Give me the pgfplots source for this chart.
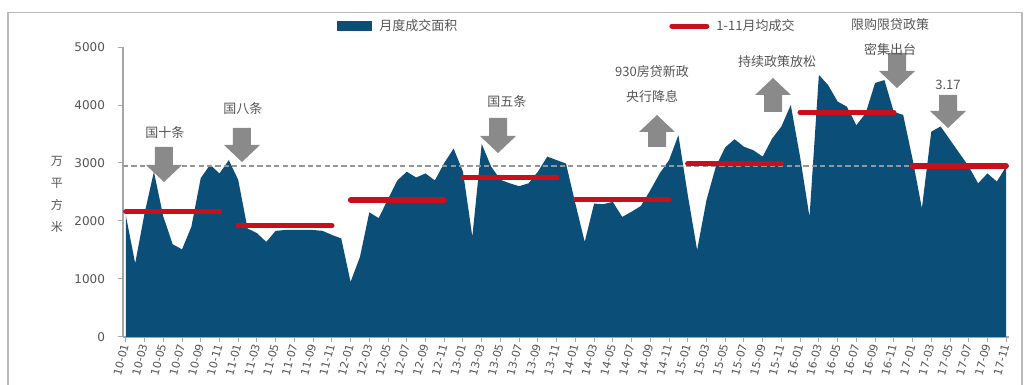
\documentclass[border=0pt]{standalone}
\usepackage{pgfplots}
\usepackage{pgfplotstable}
\pgfplotsset{compat=1.18}
\usepackage{fontspec}
\setmainfont{DejaVu Sans}
\newfontfamily\cjk{Noto Sans CJK SC}
\definecolor{navy}{RGB}{11,79,121}
\definecolor{barred}{RGB}{200,16,28}
\definecolor{arrowgray}{RGB}{138,138,138}
\definecolor{txtgray}{RGB}{85,85,85}

% down arrow: centre x, top y, tip y (pixels of the reference)
\newcommand{\darrow}[3]{\fill[arrowgray] ({(#1-9-123)*0.5pt},{(337-#2)*0.5pt}) -- ({(#1+9-123)*0.5pt},{(337-#2)*0.5pt}) -- ({(#1+9-123)*0.5pt},{(337-#3+17)*0.5pt}) -- ({(#1+18-123)*0.5pt},{(337-#3+17)*0.5pt}) -- ({(#1-123)*0.5pt},{(337-#3)*0.5pt}) -- ({(#1-18-123)*0.5pt},{(337-#3+17)*0.5pt}) -- ({(#1-9-123)*0.5pt},{(337-#3+17)*0.5pt}) -- cycle;}
% up arrow: centre x, tip y, bottom y
\newcommand{\uarrow}[3]{\fill[arrowgray] ({(#1-9-123)*0.5pt},{(337-#3)*0.5pt}) -- ({(#1+9-123)*0.5pt},{(337-#3)*0.5pt}) -- ({(#1+9-123)*0.5pt},{(337-#2-17)*0.5pt}) -- ({(#1+18-123)*0.5pt},{(337-#2-17)*0.5pt}) -- ({(#1-123)*0.5pt},{(337-#2)*0.5pt}) -- ({(#1-18-123)*0.5pt},{(337-#2-17)*0.5pt}) -- ({(#1-9-123)*0.5pt},{(337-#2-17)*0.5pt}) -- cycle;}

\pgfplotstableread{
i v
0 2100
1 1270
2 2130
3 2850
4 2080
5 1600
6 1510
7 1900
8 2740
9 2970
10 2820
11 3050
12 2710
13 1870
14 1790
15 1640
16 1830
17 1845
18 1845
19 1845
20 1845
21 1830
22 1760
23 1700
24 950
25 1380
26 2150
27 2050
28 2380
29 2700
30 2850
31 2750
32 2820
33 2700
34 3000
35 3250
36 2850
37 1730
38 3330
39 2940
40 2710
41 2650
42 2600
43 2650
44 2850
45 3110
46 3050
47 2990
48 2300
49 1640
50 2300
51 2290
52 2330
53 2070
54 2160
55 2260
56 2530
57 2820
58 3050
59 3480
60 2450
61 1500
62 2360
63 2940
64 3270
65 3410
66 3280
67 3220
68 3110
69 3420
70 3630
71 4000
72 3100
73 2070
74 4520
75 4340
76 4060
77 3970
78 3650
79 3860
80 4380
81 4430
82 3880
83 3830
84 3070
85 2220
86 3540
87 3630
88 3400
89 3170
90 2940
91 2650
92 2820
93 2680
94 2940
}\areadata

\pgfplotstableread{
x y
0 2160
10 2160
11 nan
12 1920
22 1920
23 nan
24 2360
34 2360
35 nan
36 2750
46 2750
47 nan
48 2370
58 2370
59 nan
60 2990
70 2990
71 nan
72 3870
82 3870
83 nan
84 2950
94 2950
}\avgdata

\begin{document}
\begin{tikzpicture}
\begin{axis}[
  scale only axis, width=443pt, height=145pt,
  xmin=-0.3, xmax=94.3, ymin=0, ymax=5000,
  axis x line*=bottom, axis y line*=left,
  axis line style={draw=gray!70, line width=0.6pt},
  xtick={0,2,...,94},
  xticklabels={10-01,10-03,10-05,10-07,10-09,10-11,11-01,11-03,11-05,11-07,11-09,11-11,12-01,12-03,12-05,12-07,12-09,12-11,13-01,13-03,13-05,13-07,13-09,13-11,14-01,14-03,14-05,14-07,14-09,14-11,15-01,15-03,15-05,15-07,15-09,15-11,16-01,16-03,16-05,16-07,16-09,16-11,17-01,17-03,17-05,17-07,17-09,17-11},
  ytick={0,1000,...,5000},
  tick align=outside, major tick length=2.5pt,
  tick style={gray!70, line width=0.5pt},
  x tick label style={rotate=75, anchor=east, font=\fontsize{5.5}{6}\selectfont, text=txtgray, inner sep=1pt},
  y tick label style={font=\fontsize{6}{6.5}\selectfont, text=txtgray, xshift=-3pt},
  /pgf/number format/assume math mode=true,
  /pgf/number format/1000 sep={},
  clip=false,
  unbounded coords=jump,
  legend columns=2,
  legend style={at={(axis description cs:0.2415,1.0724)}, anchor=west, draw=none, fill=none,
    font=\cjk\fontsize{6.5}{7}\selectfont, text=txtgray, inner sep=0pt,
    /tikz/every odd column/.append style={column sep=1.5pt},
    /tikz/every even column/.append style={column sep=104pt}},
]
\addplot[fill=navy, draw=none,
  legend image code/.code={\fill[navy] (0pt,-2.5pt) rectangle (17.5pt,2.5pt);}]
  table[x=i, y=v] {\areadata} \closedcycle;
\addlegendentry{月度成交面积}
\addplot[forget plot, draw={rgb,255:red,150;green,150;blue,150}, line width=1pt, dash pattern=on 2.6pt off 1.6pt]
  coordinates {(-0.3,2950) (94.3,2950)};
\addplot[barred, line width=2.7pt, line cap=round,
  legend image code/.code={\draw[barred, line width=2.5pt] (0pt,0pt) -- (17.5pt,0pt);}]
  table[x=x, y=y] {\avgdata};
\addlegendentry{1-11月均成交}
\end{axis}

% annotations
\darrow{164}{147}{182}
\darrow{242}{128}{162}
\darrow{498}{118}{153}
\uarrow{657}{115}{147}
\uarrow{773}{78}{112}
\darrow{897}{53}{88}
\darrow{948}{95}{128}

\begin{scope}[every node/.style={font=\cjk\fontsize{6.5}{7}\selectfont, text=txtgray, inner sep=0pt}]
\node at (21pt,102pt) {国十条};
\node at (60pt,114pt) {国八条};
\node at (192pt,117.5pt) {国五条};
\node at (264.5pt,132.5pt) {930房贷新政};
\node at (264.5pt,120pt) {央行降息};
\node at (327pt,137.5pt) {持续政策放松};
\node at (383.5pt,156pt) {限购限贷政策};
\node at (383.5pt,144pt) {密集出台};
\node at (412.5pt,126pt) {3.17};
\node[align=center, font=\cjk\fontsize{6}{11}\selectfont] at (-33pt,71.5pt) {万\\平\\方\\米};
\end{scope}

% outer frame (cut at the bottom like the reference)
\draw[gray!55, line width=0.8pt] (-57.5pt,-40pt) -- (-57.5pt,162.2pt) -- (449.5pt,162.2pt) -- (449.5pt,-40pt);

\pgfresetboundingbox
\path[use as bounding box] (-61.5pt,-24pt) rectangle (453.5pt,168.5pt);
\end{tikzpicture}
\end{document}
